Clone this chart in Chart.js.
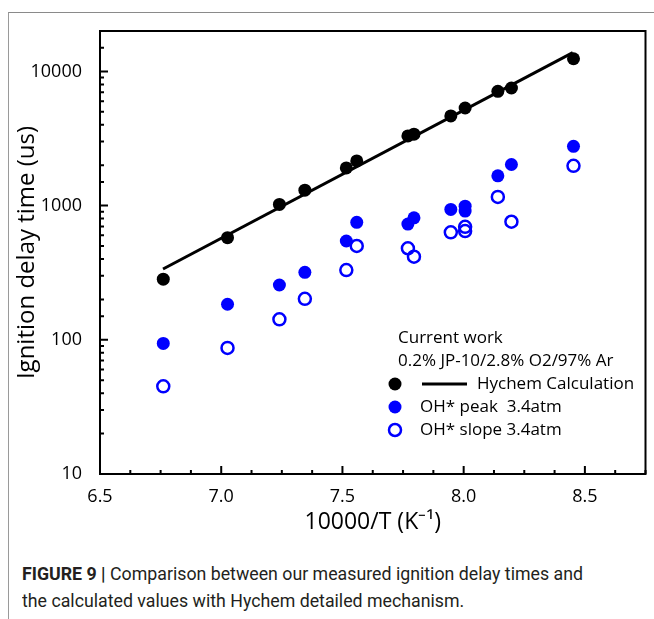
<!DOCTYPE html>
<html lang="en">
<head>
    <meta charset="UTF-8">
    <title>Figure 9 | Ignition delay times, JP-10</title>
    <script src="https://cdn.jsdelivr.net/npm/chart.js"></script>
    <style>
        body {
            margin: 0;
            background: #fff;
        }

        .page {
            position: relative;
            width: 654px;
            height: 619px;
            overflow: hidden;
        }

        .frame {
            position: absolute;
            left: 8px;
            top: 12px;
            right: -4px;
            bottom: -4px;
            border-top: 1.5px solid #8a8a8a;
            border-left: 1.5px solid #9a9a9a;
        }

        #chart {
            position: absolute;
            left: 0;
            top: 0;
        }

        .caption {
            position: absolute;
            left: 22px;
            top: 560px;
            font-family: Roboto, 'Liberation Sans', sans-serif;
            font-size: 18px;
            line-height: 27px;
            color: #231f20;
            white-space: nowrap;
            transform-origin: left top;
        }

        .caption b {
            font-weight: 700;
        }
    </style>
</head>
<body>
    <div class="page">
        <div class="frame"></div>
        <canvas id="chart" width="654" height="560"></canvas>
        <div class="caption" id="caption">
            <span id="captionLine"><b>FIGURE 9 |</b> Comparison between our measured ignition delay times and</span><br>
            the calculated values with Hychem detailed mechanism.
        </div>
    </div>

    <script>
        // 10000/T (K^-1) of the shock tube runs
        const invTemp = [6.761, 7.026, 7.240, 7.345, 7.516, 7.559, 7.770, 7.795, 7.947, 8.006, 8.141, 8.197, 8.453];
        // ignition delay (us), black dots
        const idtMeasured = [283, 577, 1021, 1303, 1910, 2153, 3304, 3405, 4656, 5335, 7100, 7520, 12420];

        // OH* runs (two overlapping runs near 8.0)
        const ohInvTemp = [6.761, 7.026, 7.240, 7.345, 7.516, 7.559, 7.770, 7.795, 7.947, 8.006, 8.006, 8.141, 8.197, 8.453];
        const ohPeak = [94, 184, 256, 318, 545, 750, 728, 811, 937, 991, 910, 1667, 2024, 2767];
        const ohSlope = [45, 87, 142, 202, 331, 500, 481, 416, 632, 695, 646, 1161, 758, 1977];

        // Hychem calculation line
        const hychemInvTemp = [6.76, 8.45];
        const hychemIdt = [337, 13800];

        const xTickLabels = [6.5, 7.0, 7.5, 8.0, 8.5];
        const yTickLabels = [10, 100, 1000, 10000];

        const legendHeader = ['Current work', '0.2% JP-10/2.8% O2/97% Ar'];
        const legendLabels = ['Hychem Calculation', 'OH* peak  3.4atm', 'OH* slope 3.4atm'];

        const pts = (xs, ys) => xs.map((x, i) => ({ x: x, y: ys[i] }));
        const BLUE = '#0000ff';
        const FONT = "'Open Sans', sans-serif";

        // box around the plot + inward tick marks
        const frameTicks = {
            id: 'frameTicks',
            afterDraw(chart) {
                const { ctx, chartArea: a, scales: { x, y } } = chart;
                ctx.save();
                ctx.strokeStyle = '#000';
                ctx.lineWidth = 2;
                ctx.beginPath();
                x.ticks.forEach(t => {
                    const px = x.getPixelForValue(t.value);
                    const len = xTickLabels.some(v => Math.abs(v - t.value) < 1e-6) ? 8 : 4;
                    ctx.moveTo(px, a.bottom);
                    ctx.lineTo(px, a.bottom - len);
                });
                y.ticks.forEach(t => {
                    const py = y.getPixelForValue(t.value);
                    const len = yTickLabels.includes(t.value) ? 8 : 4;
                    ctx.moveTo(a.left, py);
                    ctx.lineTo(a.left + len, py);
                });
                ctx.stroke();
                ctx.strokeRect(a.left, a.top, a.right - a.left, a.bottom - a.top);
                ctx.restore();
            }
        };

        // legend written inside the plot, lower right
        const innerLegend = {
            id: 'innerLegend',
            afterDatasetsDraw(chart) {
                const { ctx, chartArea: a } = chart;
                const ds = chart.data.datasets;
                const mx = a.left + 295;
                const tx = a.left + 320;
                const rows = [a.top + 353, a.top + 376, a.top + 399];
                ctx.save();
                ctx.font = '17px ' + FONT;
                ctx.fillStyle = '#000';
                ctx.textBaseline = 'middle';
                ctx.fillText(legendHeader[0], a.left + 298, a.top + 307);
                ctx.fillText(legendHeader[1], a.left + 298, a.top + 330);

                // row 1: dot + line
                ctx.beginPath();
                ctx.arc(mx, rows[0], ds[1].pointRadius, 0, Math.PI * 2);
                ctx.fillStyle = ds[1].backgroundColor;
                ctx.fill();
                ctx.beginPath();
                ctx.moveTo(a.left + 322, rows[0]);
                ctx.lineTo(a.left + 367, rows[0]);
                ctx.strokeStyle = ds[0].borderColor;
                ctx.lineWidth = ds[0].borderWidth;
                ctx.stroke();

                // row 2: filled blue
                ctx.beginPath();
                ctx.arc(mx, rows[1], ds[2].pointRadius, 0, Math.PI * 2);
                ctx.fillStyle = ds[2].backgroundColor;
                ctx.fill();

                // row 3: open blue
                ctx.beginPath();
                ctx.arc(mx, rows[2], ds[3].pointRadius, 0, Math.PI * 2);
                ctx.strokeStyle = ds[3].borderColor;
                ctx.lineWidth = ds[3].borderWidth;
                ctx.stroke();

                ctx.fillStyle = '#000';
                ctx.fillText(legendLabels[0], a.left + 377, rows[0]);
                ctx.fillText(legendLabels[1], tx, rows[1]);
                ctx.fillText(legendLabels[2], tx, rows[2]);
                ctx.restore();
            }
        };

        Chart.defaults.font.family = FONT;
        Chart.defaults.color = '#000';

        new Chart(document.getElementById('chart'), {
            type: 'scatter',
            data: {
                datasets: [
                    {
                        type: 'line',
                        label: legendLabels[0],
                        data: pts(hychemInvTemp, hychemIdt),
                        borderColor: '#000',
                        borderWidth: 3,
                        pointRadius: 0,
                        fill: false
                    },
                    {
                        label: 'Measured',
                        data: pts(invTemp, idtMeasured),
                        backgroundColor: '#000',
                        borderWidth: 0,
                        pointRadius: 6.5
                    },
                    {
                        label: legendLabels[1],
                        data: pts(ohInvTemp, ohPeak),
                        backgroundColor: BLUE,
                        borderWidth: 0,
                        pointRadius: 6.5
                    },
                    {
                        label: legendLabels[2],
                        data: pts(ohInvTemp, ohSlope),
                        backgroundColor: 'rgba(0,0,0,0)',
                        borderColor: BLUE,
                        borderWidth: 2.5,
                        pointRadius: 6
                    }
                ]
            },
            options: {
                responsive: false,
                animation: false,
                layout: { padding: { left: 0, right: 2, top: 31, bottom: 26 } },
                plugins: {
                    legend: { display: false },
                    tooltip: { enabled: false }
                },
                scales: {
                    x: {
                        type: 'linear',
                        min: 6.5,
                        max: 8.75,
                        grid: { display: false },
                        border: { display: false },
                        afterFit: s => { s.height = 60; },
                        ticks: {
                            stepSize: 0.125,
                            autoSkip: false,
                            maxRotation: 0,
                            padding: 4,
                            font: { size: 18 },
                            callback: v => xTickLabels.some(l => Math.abs(l - v) < 1e-6) ? v.toFixed(1) : ''
                        },
                        title: {
                            display: true,
                            text: '10000/T (K\u207B\u00B9)',
                            font: { size: 23, lineHeight: 1 },
                            padding: { top: 0, bottom: 0 }
                        }
                    },
                    y: {
                        type: 'logarithmic',
                        min: 10,
                        max: 20000,
                        grid: { display: false },
                        border: { display: false },
                        afterFit: s => { s.width = 100; },
                        ticks: {
                            autoSkip: false,
                            padding: 10,
                            font: { size: 18 },
                            callback: v => yTickLabels.includes(v) ? String(v) : ''
                        },
                        title: {
                            display: true,
                            text: 'Ignition delay time (us)',
                            font: { size: 24 },
                            padding: { top: 13, bottom: 0 }
                        }
                    }
                }
            },
            plugins: [frameTicks, innerLegend]
        });

        // condensed caption type: squeeze the caption to the figure's width
        const cap = document.getElementById('caption');
        const line = document.getElementById('captionLine');
        cap.style.transform = 'scaleX(' + (561 / line.getBoundingClientRect().width) + ')';
    </script>
</body>
</html>
